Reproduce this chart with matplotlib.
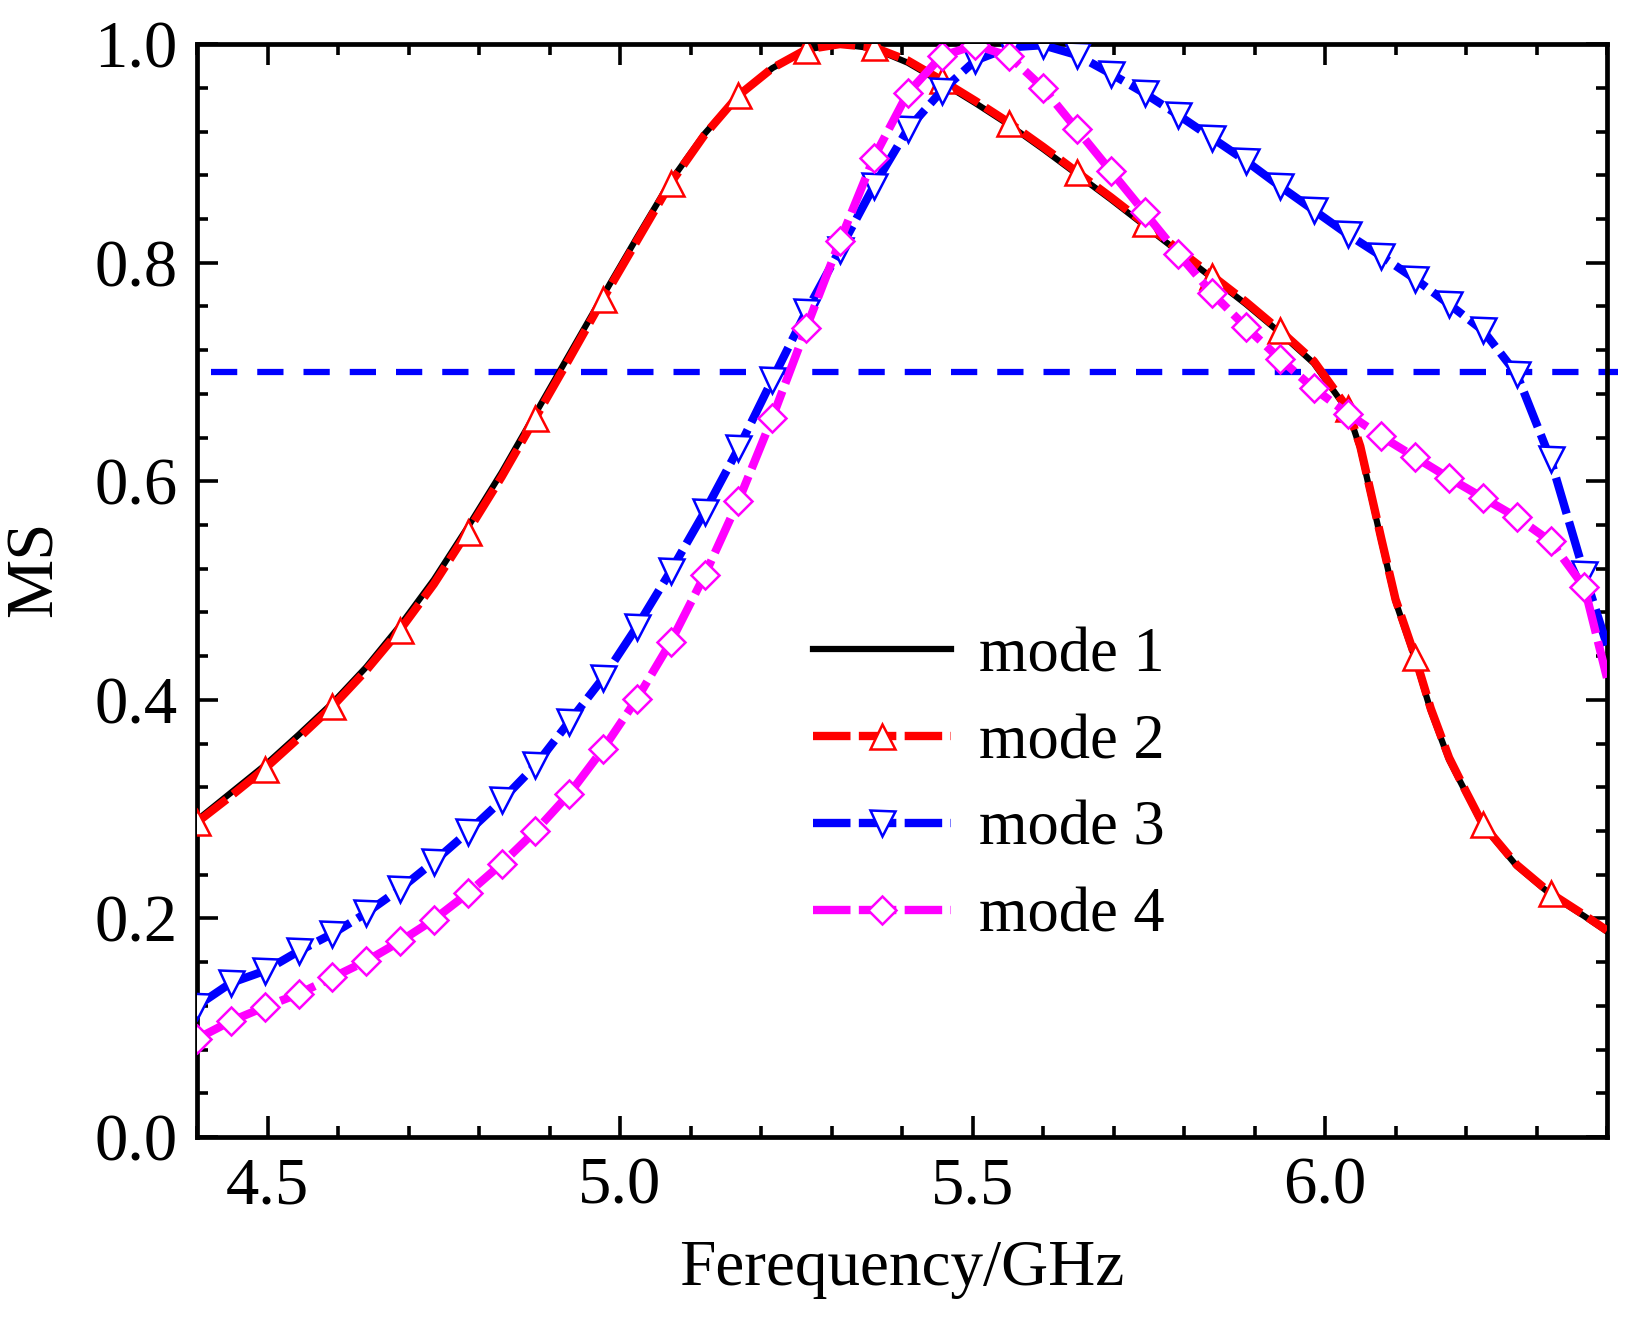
import numpy as np
import matplotlib.pyplot as plt
from matplotlib.ticker import MultipleLocator

plt.rcParams['font.family'] = ['Liberation Serif', 'DejaVu Serif']

# frequency grid (GHz)
freq = [4.400, 4.448, 4.496, 4.544, 4.592, 4.640, 4.688, 4.736, 4.784, 4.832,
        4.880, 4.928, 4.976, 5.024, 5.072, 5.120, 5.168, 5.216, 5.264, 5.312,
        5.360, 5.408, 5.456, 5.504, 5.552, 5.600, 5.648, 5.696, 5.744, 5.792,
        5.840, 5.888, 5.936, 5.984, 6.032, 6.080, 6.128, 6.176, 6.224, 6.272,
        6.320, 6.368, 6.400]

# mode 1 / mode 2 have a sharp knee near 6.05 GHz, so a few extra points there
freq12 = [4.400, 4.448, 4.496, 4.544, 4.592, 4.640, 4.688, 4.736, 4.784, 4.832,
          4.880, 4.928, 4.976, 5.024, 5.072, 5.120, 5.168, 5.216, 5.264, 5.312,
          5.360, 5.408, 5.456, 5.504, 5.552, 5.600, 5.648, 5.696, 5.744, 5.792,
          5.840, 5.888, 5.936, 5.984, 6.032, 6.050, 6.080, 6.100, 6.128, 6.150,
          6.176, 6.200, 6.224, 6.272, 6.320, 6.368, 6.400]

mode1 = [0.290, 0.315, 0.340, 0.368, 0.397, 0.430, 0.468, 0.510, 0.558, 0.608,
         0.662, 0.716, 0.770, 0.823, 0.875, 0.918, 0.953, 0.978, 0.995, 1.000,
         0.996, 0.983, 0.965, 0.946, 0.926, 0.904, 0.881, 0.858, 0.834, 0.810,
         0.786, 0.762, 0.736, 0.708, 0.665, 0.630, 0.545, 0.490, 0.437, 0.390,
         0.345, 0.315, 0.285, 0.248, 0.222, 0.202, 0.188]

mode2 = [0.288, 0.312, 0.337, 0.365, 0.394, 0.427, 0.464, 0.506, 0.554, 0.604,
         0.658, 0.712, 0.767, 0.820, 0.873, 0.917, 0.953, 0.978, 0.995, 1.000,
         0.997, 0.985, 0.967, 0.948, 0.928, 0.906, 0.883, 0.860, 0.836, 0.812,
         0.788, 0.764, 0.738, 0.710, 0.667, 0.632, 0.547, 0.492, 0.439, 0.392,
         0.347, 0.316, 0.286, 0.249, 0.223, 0.203, 0.189]

mode3 = [0.120, 0.141, 0.152, 0.170, 0.186, 0.205, 0.227, 0.252, 0.279, 0.308,
         0.340, 0.380, 0.420, 0.467, 0.518, 0.572, 0.630, 0.693, 0.755, 0.812,
         0.870, 0.922, 0.957, 0.985, 0.997, 0.999, 0.990, 0.973, 0.955, 0.935,
         0.914, 0.893, 0.870, 0.848, 0.826, 0.806, 0.785, 0.762, 0.738, 0.698,
         0.620, 0.515, 0.450]

mode4 = [0.090, 0.106, 0.119, 0.131, 0.146, 0.161, 0.179, 0.199, 0.223, 0.250,
         0.280, 0.314, 0.355, 0.401, 0.453, 0.514, 0.582, 0.658, 0.740, 0.820,
         0.896, 0.955, 0.989, 0.999, 0.989, 0.960, 0.922, 0.884, 0.846, 0.808,
         0.772, 0.741, 0.712, 0.685, 0.662, 0.641, 0.622, 0.603, 0.585, 0.567,
         0.545, 0.503, 0.420]

threshold = 0.7

# mode 2 markers sit on every other grid point
mode2_marks = freq[0:-1:2]
mark_idx2 = [i for i, f in enumerate(freq12) if f in mode2_marks]

fig = plt.figure(figsize=(16.31, 13.2), dpi=100)
ax = fig.add_axes([0.1208, 0.1386, 0.8645, 0.828])

dash = (4.5, 1.0)
ax.plot(freq12, mode1, color='black', lw=4.5, label='mode 1', zorder=3)
ax.plot(freq12, mode2, color='red', lw=6, ls=(0, dash), marker='^', ms=18,
        mfc='white', mec='red', mew=1.8, markevery=mark_idx2, label='mode 2', zorder=4)
ax.plot(freq, mode3, color='blue', lw=6, ls=(0, dash), marker='v', ms=18,
        mfc='white', mec='blue', mew=1.8, markevery=slice(0, len(freq) - 1),
        label='mode 3', zorder=5)
ax.plot(freq, mode4, color='magenta', lw=6, ls=(0, dash), marker='D', ms=14.5,
        mfc='white', mec='magenta', mew=1.8, markevery=slice(0, len(freq) - 1),
        label='mode 4', zorder=6)

ax.axhline(threshold, xmin=0.01, xmax=1.008, color='blue', lw=4.5,
           ls=(0, (4.2, 3.2)), clip_on=False, zorder=2)

ax.set_xlim(4.4, 6.4)
ax.set_ylim(0.0, 1.0)
ax.xaxis.set_major_locator(MultipleLocator(0.5))
ax.xaxis.set_minor_locator(MultipleLocator(0.1))
ax.yaxis.set_major_locator(MultipleLocator(0.2))
ax.yaxis.set_minor_locator(MultipleLocator(0.04))
ax.tick_params(which='both', direction='in', top=True, right=True, width=2.6)
ax.tick_params(which='major', length=15, labelsize=48)
ax.tick_params(axis='x', which='major', pad=14)
ax.tick_params(axis='y', which='major', pad=14)
ax.tick_params(which='minor', length=8)
for s in ax.spines.values():
    s.set_linewidth(3.4)

ax.set_xlabel('Ferequency/GHz', fontsize=47, labelpad=16)
ax.set_ylabel('MS', fontsize=48)
ax.yaxis.set_label_coords(-0.093, 0.52)

ax.legend(loc='upper left', bbox_to_anchor=(0.415, 0.495), frameon=False,
          fontsize=45, handlelength=2.2, handletextpad=0.45, labelspacing=0.46,
          borderpad=0, numpoints=1)

plt.savefig('out.png', dpi=100)
